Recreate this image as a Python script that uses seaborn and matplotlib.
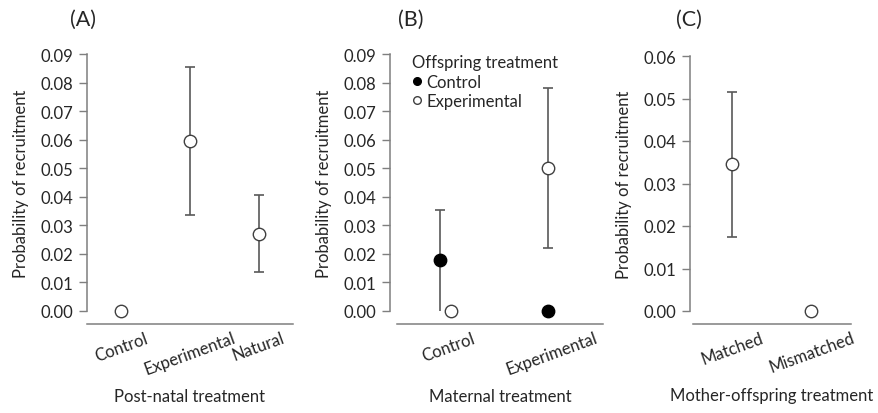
import numpy as np
import pandas as pd
import matplotlib
matplotlib.use("Agg")
import matplotlib.pyplot as plt
from matplotlib.lines import Line2D
import seaborn as sns

# ---------------- data ----------------
a_categories = ["Control", "Experimental", "Natural"]
a_estimate = [0.0, 0.0595, 0.027]
a_lower = [np.nan, 0.0335, 0.0137]
a_upper = [np.nan, 0.0855, 0.0407]

b_categories = ["Control", "Experimental"]
b_offspring = ["Control", "Experimental"]
b_control_estimate = [0.018, 0.0]
b_control_lower = [0.0, np.nan]
b_control_upper = [0.0355, np.nan]
b_exper_estimate = [0.0, 0.050]
b_exper_lower = [np.nan, 0.022]
b_exper_upper = [np.nan, 0.078]

c_categories = ["Matched", "Mismatched"]
c_estimate = [0.0345, 0.0]
c_lower = [0.0175, np.nan]
c_upper = [0.0515, np.nan]

a_yticks = [0.00, 0.01, 0.02, 0.03, 0.04, 0.05, 0.06, 0.07, 0.08, 0.09]
c_yticks = [0.00, 0.01, 0.02, 0.03, 0.04, 0.05, 0.06]

# ---------------- style ----------------
sns.set_theme(style="white")
plt.rcParams["font.family"] = ["Lato", "DejaVu Sans"]
TXT = "#262626"
SPINE = "#7f7f7f"
ERR = "#595959"
EDGE = "#404040"
FS = 12

W, H = 879, 414
fig = plt.figure(figsize=(W / 100, H / 100), dpi=100)


def add_axes(left, right, top, bottom):
    return fig.add_axes([left / W, 1 - bottom / H, (right - left) / W, (bottom - top) / H])


def style_axes(ax, ytick_vals, left_px_off, width_px, xlabel):
    ax.set_ylim(0, ytick_vals[-1])
    ax.set_yticks(ytick_vals)
    ax.set_yticklabels([f"{v:.2f}" for v in ytick_vals])
    for s in ["top", "right"]:
        ax.spines[s].set_visible(False)
    for s in ["left", "bottom"]:
        ax.spines[s].set_color(SPINE)
        ax.spines[s].set_linewidth(1.1)
    ax.spines["bottom"].set_position(("outward", 9.4))
    ax.spines["left"].set_position(("outward", left_px_off * 0.72))
    ax.tick_params(axis="y", which="both", left=True, length=5.5, width=1.0,
                   color=SPINE, pad=4.5, labelsize=FS, labelcolor=TXT)
    ax.tick_params(axis="x", which="both", bottom=False, length=0, pad=4,
                   labelsize=FS, labelcolor=TXT)
    for lab in ax.get_xticklabels():
        lab.set_rotation(20)
        lab.set_ha("center")
        lab.set_va("top")
    ax.set_xlabel(xlabel, fontsize=FS, color=TXT)
    ax.xaxis.set_label_coords(0.5, -(397 - 312) / 257)
    ax.xaxis.label.set_va("center")
    ax.set_ylabel("Probability of recruitment", fontsize=FS, color=TXT)
    ax.yaxis.set_label_coords(-(66 + left_px_off) / width_px, 0.5)
    ax.yaxis.label.set_va("center")
    ax.grid(False)


def draw_series(ax, xpos, est, lo, hi, face, hide_lower_cap=False):
    est = np.asarray(est, float)
    lo = np.asarray(lo, float)
    hi = np.asarray(hi, float)
    xpos = np.asarray(xpos, float)
    m = np.isfinite(lo) & np.isfinite(hi)
    if m.any():
        _, caps, _ = ax.errorbar(xpos[m], est[m], yerr=[est[m] - lo[m], hi[m] - est[m]],
                                 fmt="none", ecolor=ERR, elinewidth=1.2, capsize=3.6,
                                 capthick=1.2, zorder=2, clip_on=False)
        if hide_lower_cap and len(caps) > 0:
            caps[0].set_visible(False)
    df = pd.DataFrame({"x": xpos, "y": est})
    sns.scatterplot(data=df, x="x", y="y", ax=ax, marker="o", s=80, color=face,
                    edgecolor=EDGE if face == "white" else "black", linewidth=1.0,
                    zorder=3, clip_on=False, legend=False)


# ---------------- Panel A ----------------
axA = add_axes(87, 293, 55, 312)
xa = np.arange(len(a_categories))
draw_series(axA, xa, a_estimate, a_lower, a_upper, "white")
axA.set_xlim(-0.5, len(a_categories) - 0.5)
axA.set_xticks(xa)
axA.set_xticklabels(a_categories)
style_axes(axA, a_yticks, 0, 206, "Post-natal treatment")

# ---------------- Panel B ----------------
axB = add_axes(397, 603, 55, 312)
xb = np.arange(len(b_categories))
ctrl_shift = [-0.08, -0.03]
exp_shift = [0.02, -0.03]
draw_series(axB, xb + np.array(ctrl_shift), b_control_estimate, b_control_lower,
            b_control_upper, "black", hide_lower_cap=True)
draw_series(axB, xb + np.array(exp_shift), b_exper_estimate, b_exper_lower,
            b_exper_upper, "white")
axB.set_xlim(-0.5, len(b_categories) - 0.5)
axB.set_xticks(xb)
axB.set_xticklabels(b_categories)
style_axes(axB, a_yticks, 7, 206, "Maternal treatment")
handles = [
    Line2D([], [], marker="o", linestyle="none", markersize=5.5, markerfacecolor="black",
           markeredgecolor="black", label=b_offspring[0]),
    Line2D([], [], marker="o", linestyle="none", markersize=5.5, markerfacecolor="white",
           markeredgecolor=EDGE, label=b_offspring[1]),
]
leg = axB.legend(handles=handles, title="Offspring treatment", loc="upper left",
                 bbox_to_anchor=((413 - 397) / 206 - 0.035, 1.025), frameon=False,
                 fontsize=FS, title_fontsize=FS, handlelength=0.6, handletextpad=0.25,
                 labelspacing=0.2, borderaxespad=0, alignment="left")
for t in leg.get_texts():
    t.set_color(TXT)
leg.get_title().set_color(TXT)

# ---------------- Panel C ----------------
axC = add_axes(693, 851, 57, 312)
xc = np.arange(len(c_categories))
draw_series(axC, xc, c_estimate, c_lower, c_upper, "white")
axC.set_xlim(-0.5, len(c_categories) - 0.5)
axC.set_xticks(xc)
axC.set_xticklabels(c_categories)
style_axes(axC, c_yticks, 3, 158, "Mother-offspring treatment")

# ---------------- panel letters ----------------
for label, xpx in [("(A)", 83), ("(B)", 411), ("(C)", 689)]:
    fig.text(xpx / W, 1 - 20 / H, label, ha="center", va="center", fontsize=15.5, color=TXT)

fig.savefig("out.png", dpi=100, facecolor="white")
